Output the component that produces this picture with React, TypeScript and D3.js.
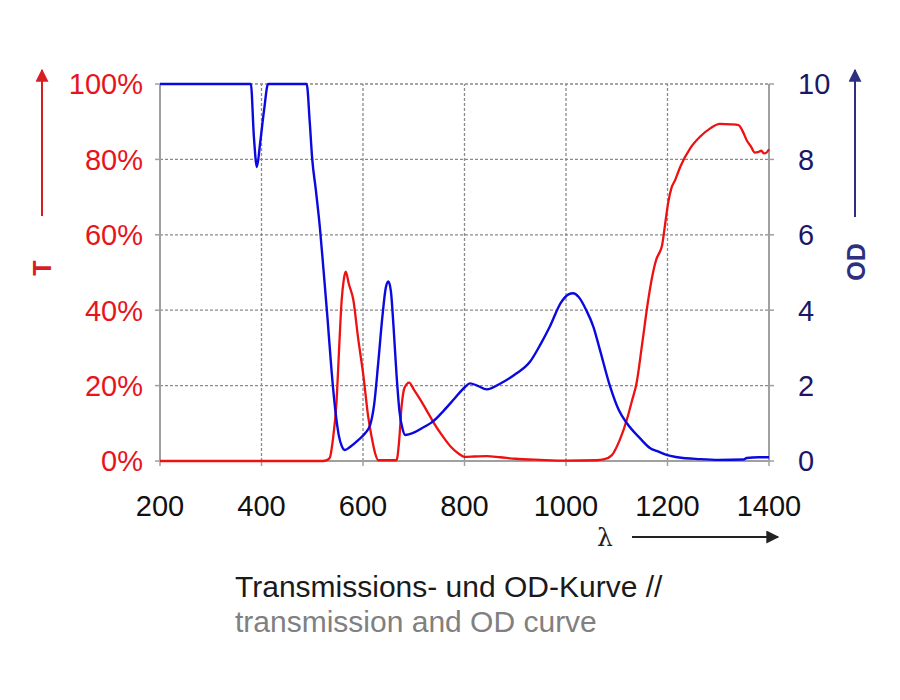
import React, { useEffect, useRef } from "react";
import * as d3 from "d3";

// wavelength (nm) vs optical density
const odWave = [200, 375, 379, 385, 391, 397, 405, 413, 489, 495, 500, 507, 515, 522, 530, 538, 545, 552, 558, 564, 575, 590, 605, 614, 622, 630, 638, 645, 650, 655, 660, 666, 672, 678, 683, 700, 720, 738, 760, 780, 800, 811, 825, 844, 870, 900, 929, 950, 968, 990, 1005, 1014, 1025, 1040, 1054, 1067, 1087, 1104, 1120, 1146, 1166, 1180, 1198, 1220, 1264, 1300, 1350, 1356, 1380, 1400];
const odValues = [10, 10, 10, 8.6, 7.8, 8.4, 9.3, 10, 10, 9.0, 8.0, 7.2, 6.2, 5.1, 3.8, 2.4, 1.4, 0.7, 0.4, 0.29, 0.38, 0.55, 0.75, 0.95, 1.5, 2.6, 3.8, 4.6, 4.76, 4.5, 3.6, 2.3, 1.3, 0.85, 0.69, 0.75, 0.9, 1.05, 1.35, 1.65, 1.95, 2.06, 2.0, 1.9, 2.05, 2.3, 2.63, 3.1, 3.56, 4.2, 4.42, 4.45, 4.35, 4.0, 3.56, 2.94, 1.97, 1.35, 1.0, 0.6, 0.34, 0.26, 0.16, 0.1, 0.05, 0.03, 0.04, 0.08, 0.1, 0.1];

// wavelength (nm) vs transmission (%)
const tWave = [200, 520, 530, 535, 540, 548, 553, 558, 562, 566, 572, 581, 590, 601, 610, 617, 624, 630, 666, 671, 676, 682, 691, 700, 712, 725, 740, 758, 775, 790, 800, 820, 844, 870, 900, 949, 1000, 1060, 1074, 1090, 1106, 1120, 1130, 1139, 1150, 1162, 1170, 1178, 1185, 1189, 1193, 1198, 1202, 1208, 1215, 1225, 1245, 1264, 1285, 1303, 1325, 1340, 1348, 1356, 1364, 1372, 1378, 1385, 1390, 1395, 1400];
const tValues = [0, 0, 0.3, 1, 5, 16, 30, 42.7, 48, 50.2, 47, 42.7, 33, 22.4, 12, 6.4, 2, 0.2, 0.2, 5, 14.4, 19.5, 20.8, 19, 16.5, 13.5, 10, 6.4, 3.5, 1.8, 1.1, 1.2, 1.3, 1.0, 0.6, 0.3, 0.1, 0.2, 0.4, 1.5, 5.6, 11, 16, 20.6, 31, 42.7, 49, 53.5, 55.5, 57, 60.5, 65.5, 69, 72.5, 74.5, 78, 83, 86, 88.3, 89.4, 89.3, 89.1, 87.5, 85.1, 83.5, 81.8, 81.9, 82.3, 81.6, 81.8, 82.7];

const xTicks = [200, 400, 600, 800, 1000, 1200, 1400];
const tTicks = [0, 20, 40, 60, 80, 100];
const odTicks = [0, 2, 4, 6, 8, 10];

const FONT = "'Liberation Sans', Arial, sans-serif";

const App = () => {
  const ref = useRef<SVGSVGElement | null>(null);

  useEffect(() => {
    const svg = d3.select(ref.current);
    svg.selectAll("*").remove();

    const x = d3.scaleLinear().domain([200, 1400]).range([160, 769]);
    const yT = d3.scaleLinear().domain([0, 100]).range([461, 84]);
    const yOD = d3.scaleLinear().domain([0, 10]).range([461, 84]);

    const defs = svg.append("defs");
    const marker = (id: string, color: string) =>
      defs
        .append("marker")
        .attr("id", id)
        .attr("viewBox", "0 0 10 10")
        .attr("refX", 9)
        .attr("refY", 5)
        .attr("markerWidth", 7)
        .attr("markerHeight", 6.5)
        .attr("orient", "auto")
        .append("path")
        .attr("d", "M0,0 L10,5 L0,10 z")
        .attr("fill", color);
    marker("arrRed", "#d81e25");
    marker("arrBlue", "#2e2f7f");
    marker("arrBlack", "#222");

    // grid
    const grid = svg.append("g");
    grid
      .selectAll("line.h")
      .data(tTicks.slice(1))
      .enter()
      .append("line")
      .attr("x1", x(200))
      .attr("x2", x(1400))
      .attr("y1", (d) => yT(d))
      .attr("y2", (d) => yT(d))
      .attr("stroke", "#8a8a8a")
      .attr("stroke-width", 1.3)
      .attr("stroke-dasharray", "3,2");
    grid
      .selectAll("line.v")
      .data(xTicks.slice(1, -1))
      .enter()
      .append("line")
      .attr("x1", (d) => x(d))
      .attr("x2", (d) => x(d))
      .attr("y1", yT(0))
      .attr("y2", yT(100))
      .attr("stroke", "#8a8a8a")
      .attr("stroke-width", 1.3)
      .attr("stroke-dasharray", "3,2");

    // axis frame
    const axisColor = "#a0a0a0";
    svg.append("line").attr("x1", x(200)).attr("x2", x(200)).attr("y1", yT(0)).attr("y2", yT(100)).attr("stroke", axisColor).attr("stroke-width", 2);
    svg.append("line").attr("x1", x(1400)).attr("x2", x(1400)).attr("y1", yT(0)).attr("y2", yT(100)).attr("stroke", axisColor).attr("stroke-width", 2);
    svg.append("line").attr("x1", x(200)).attr("x2", x(1400)).attr("y1", yT(0)).attr("y2", yT(0)).attr("stroke", axisColor).attr("stroke-width", 2);

    // small tick marks
    tTicks.forEach((t) => {
      svg.append("line").attr("x1", x(200) - 5).attr("x2", x(200)).attr("y1", yT(t)).attr("y2", yT(t)).attr("stroke", axisColor).attr("stroke-width", 1.5);
      svg.append("line").attr("x1", x(1400)).attr("x2", x(1400) + 5).attr("y1", yT(t)).attr("y2", yT(t)).attr("stroke", axisColor).attr("stroke-width", 1.5);
    });
    xTicks.forEach((t) => {
      svg.append("line").attr("x1", x(t)).attr("x2", x(t)).attr("y1", yT(0)).attr("y2", yT(0) + 5).attr("stroke", axisColor).attr("stroke-width", 1.5);
    });

    // curves
    const tLine = d3
      .line<number>()
      .x((_, i) => x(tWave[i]))
      .y((d) => yT(d))
      .curve(d3.curveMonotoneX);
    const odLine = d3
      .line<number>()
      .x((_, i) => x(odWave[i]))
      .y((d) => yOD(Math.min(10, d)))
      .curve(d3.curveMonotoneX);

    svg.append("path").attr("d", tLine(tValues) as string).attr("fill", "none").attr("stroke", "#ee1111").attr("stroke-width", 2.3);
    svg.append("path").attr("d", odLine(odValues) as string).attr("fill", "none").attr("stroke", "#0a0ade").attr("stroke-width", 2.4);

    // tick labels
    svg
      .selectAll("text.tl")
      .data(tTicks)
      .enter()
      .append("text")
      .attr("x", 143)
      .attr("y", (d) => yT(d))
      .attr("dy", "0.36em")
      .attr("text-anchor", "end")
      .attr("fill", "#e8141c")
      .style("font-family", FONT)
      .style("font-size", "29px")
      .text((d) => `${d}%`);
    svg
      .selectAll("text.od")
      .data(odTicks)
      .enter()
      .append("text")
      .attr("x", 798)
      .attr("y", (d) => yOD(d))
      .attr("dy", "0.36em")
      .attr("fill", "#1b1766")
      .style("font-family", FONT)
      .style("font-size", "29px")
      .text((d) => d);
    svg
      .selectAll("text.x")
      .data(xTicks)
      .enter()
      .append("text")
      .attr("x", (d) => x(d))
      .attr("y", 516)
      .attr("text-anchor", "middle")
      .attr("fill", "#111")
      .style("font-family", FONT)
      .style("font-size", "29px")
      .text((d) => d);

    // axis titles with arrows
    svg.append("line").attr("x1", 42).attr("x2", 42).attr("y1", 216).attr("y2", 70).attr("stroke", "#d81e25").attr("stroke-width", 2).attr("marker-end", "url(#arrRed)");
    svg
      .append("text")
      .attr("transform", "translate(42,268) rotate(-90)")
      .attr("text-anchor", "middle")
      .attr("dy", "0.36em")
      .attr("fill", "#d81e25")
      .style("font-family", FONT)
      .style("font-weight", "bold")
      .style("font-size", "25px")
      .text("T");

    svg.append("line").attr("x1", 855).attr("x2", 855).attr("y1", 217).attr("y2", 70).attr("stroke", "#2e2f7f").attr("stroke-width", 2).attr("marker-end", "url(#arrBlue)");
    svg
      .append("text")
      .attr("transform", "translate(856,262) rotate(-90)")
      .attr("text-anchor", "middle")
      .attr("dy", "0.36em")
      .attr("fill", "#2e2f7f")
      .style("font-family", FONT)
      .style("font-weight", "bold")
      .style("font-size", "25px")
      .text("OD");

    svg
      .append("text")
      .attr("x", 605)
      .attr("y", 546)
      .attr("text-anchor", "middle")
      .attr("fill", "#222")
      .style("font-family", "'DejaVu Serif', serif")
      .style("font-size", "25px")
      .text("λ");
    svg.append("line").attr("x1", 632).attr("x2", 778).attr("y1", 537).attr("y2", 537).attr("stroke", "#222").attr("stroke-width", 2).attr("marker-end", "url(#arrBlack)");

    // caption
    svg
      .append("text")
      .attr("x", 235)
      .attr("y", 597)
      .attr("fill", "#1a1a1a")
      .style("font-family", FONT)
      .style("font-size", "30px")
      .text("Transmissions- und OD-Kurve //");
    svg
      .append("text")
      .attr("x", 235)
      .attr("y", 632)
      .attr("fill", "#808080")
      .style("font-family", FONT)
      .style("font-size", "30px")
      .text("transmission and OD curve");
  }, []);

  return (
    <svg
      ref={ref}
      width={900}
      height={700}
      style={{ position: "absolute", left: 0, top: 0, background: "#fff" }}
    />
  );
};

export default App;
